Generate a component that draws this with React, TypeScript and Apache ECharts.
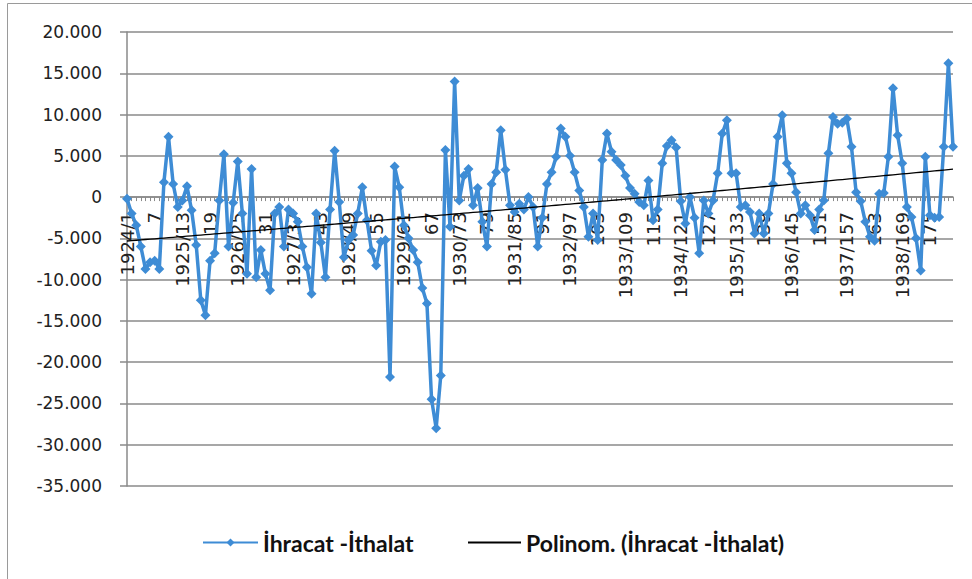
import React, { useEffect, useRef } from "react";
import * as echarts from "echarts";

const YEARS = [1924, 1925, 1926, 1927, 1928, 1929, 1930, 1931, 1932, 1933, 1934, 1935, 1936, 1937, 1938];

// Monthly values, 12 per year
const V1924 = [-200, -2000, -3400, -6000, -8700, -7900, -7700, -8700, 1800, 7300, 1600, -1200];
const V1925 = [-400, 1300, -1600, -5800, -12500, -14300, -7700, -6800, -400, 5200, -6000, -700];
const V1926 = [4300, -2000, -9300, 3400, -9700, -6400, -9300, -11300, -2000, -1200, -6000, -1500];
const V1927 = [-2000, -3000, -6000, -8500, -11700, -2000, -5500, -9700, -1500, 5600, -600, -7300];
const V1928 = [-5200, -4600, -2000, 1200, -2800, -6500, -8300, -5400, -5200, -21800, 3700, 1200];
const V1929 = [-3400, -5000, -6400, -7900, -11000, -12900, -24500, -28000, -21600, 5700, -3600, 14000];
const V1930 = [-400, 2600, 3400, -1000, 1100, -3000, -6000, 1600, 3000, 8100, 3300, -1000];
const V1931 = [-1800, -800, -1500, 0, -1200, -6000, -2500, 1600, 3000, 4900, 8300, 7300];
const V1932 = [5000, 3000, 800, -1200, -4800, -2000, -5200, 4500, 7700, 5500, 4500, 3900];
const V1933 = [2600, 1100, 400, -600, -1000, 2000, -2800, -1500, 4100, 6200, 6900, 6000];
const V1934 = [-500, -3200, 0, -2500, -6800, -400, -2000, -400, 2900, 7700, 9300, 2900];
const V1935 = [2900, -1200, -1000, -1800, -4400, -2000, -4400, -2000, 1600, 7300, 9900, 4100];
const V1936 = [2900, 600, -2000, -1000, -2200, -4000, -1500, -400, 5300, 9700, 8900, 9000];
const V1937 = [9500, 6100, 600, -500, -3000, -4800, -5300, 400, 500, 4900, 13200, 7500];
const V1938 = [4100, -1200, -2400, -5000, -8900, 4900, -2200, -2500, -2400, 6100, 16200, 6100];

const SERIES_NAME = "İhracat -İthalat";
const TREND_NAME = "Polinom. (İhracat -İthalat)";
const Y_MIN = -35000;
const Y_MAX = 20000;
const Y_STEP = 5000;

const VALUES = [
  ...V1924, ...V1925, ...V1926, ...V1927, ...V1928, ...V1929, ...V1930, ...V1931,
  ...V1932, ...V1933, ...V1934, ...V1935, ...V1936, ...V1937, ...V1938,
];

const CATEGORIES = VALUES.map((_, i) =>
  i % 12 === 0 ? `${YEARS[i / 12]}/${i + 1}` : `${i + 1}`
);

// Excel-style polynomial (order 2) trendline fitted to the series
function polyFit2(ys: number[]): number[] {
  const n = ys.length;
  const S = [0, 0, 0, 0, 0];
  const T = [0, 0, 0];
  for (let i = 0; i < n; i++) {
    const x = i + 1;
    let p = 1;
    for (let k = 0; k < 5; k++) {
      S[k] += p;
      if (k < 3) T[k] += p * ys[i];
      p *= x;
    }
  }
  const A = [
    [S[0], S[1], S[2], T[0]],
    [S[1], S[2], S[3], T[1]],
    [S[2], S[3], S[4], T[2]],
  ];
  for (let c = 0; c < 3; c++) {
    for (let r = c + 1; r < 3; r++) {
      const f = A[r][c] / A[c][c];
      for (let k = c; k < 4; k++) A[r][k] -= f * A[c][k];
    }
  }
  const coef = [0, 0, 0];
  for (let r = 2; r >= 0; r--) {
    let s = A[r][3];
    for (let k = r + 1; k < 3; k++) s -= A[r][k] * coef[k];
    coef[r] = s / A[r][r];
  }
  return ys.map((_, i) => {
    const x = i + 1;
    return coef[0] + coef[1] * x + coef[2] * x * x;
  });
}

function fmt(v: number): string {
  if (v === 0) return "0";
  const s = Math.abs(v).toString().replace(/\B(?=(\d{3})+(?!\d))/g, ".");
  return (v < 0 ? "-" : "") + s;
}

const BLUE = "#3e8cd5";
const GRID = "#8a8a8a";
const GRID_TOP = 32;
const GRID_BOTTOM = 93;
const H = 579;

export default function App() {
  const ref = useRef<HTMLDivElement>(null);
  useEffect(() => {
    document.body.style.margin = "0";
    if (!ref.current) return;
    const chart = echarts.init(ref.current, null, { renderer: "svg" });
    const trend = polyFit2(VALUES);
    const plotH = H - GRID_TOP - GRID_BOTTOM;
    const zeroFromBottom = ((0 - Y_MIN) / (Y_MAX - Y_MIN)) * plotH;
    chart.setOption({
      animation: false,
      backgroundColor: "#ffffff",
      grid: { left: 127, right: 19, top: GRID_TOP, bottom: GRID_BOTTOM, containLabel: false },
      xAxis: {
        type: "category",
        data: CATEGORIES,
        boundaryGap: false,
        offset: -zeroFromBottom,
        axisLine: { onZero: false, lineStyle: { color: GRID, width: 1.5 } },
        axisTick: { show: true, interval: 0, length: 4, lineStyle: { color: GRID } },
        axisLabel: {
          interval: 5,
          rotate: 90,
          fontFamily: "DejaVu Sans",
          fontSize: 18,
          color: "#222",
          margin: 15,
        },
        splitLine: { show: false },
        z: 1,
      },
      yAxis: {
        type: "value",
        min: Y_MIN,
        max: Y_MAX,
        interval: Y_STEP,
        axisLine: { show: true, lineStyle: { color: GRID, width: 1.5 } },
        axisTick: { show: true, length: 7, lineStyle: { color: GRID, width: 1.5 } },
        axisLabel: {
          formatter: fmt,
          fontFamily: "DejaVu Sans",
          fontSize: 17,
          color: "#222",
          margin: 25,
        },
        splitLine: { lineStyle: { color: GRID, width: 1.6 } },
      },
      legend: [
        {
          data: [SERIES_NAME],
          left: 197,
          top: 526,
          itemWidth: 55,
          itemHeight: 10,
          textStyle: { fontFamily: "Lato", fontSize: 23, fontWeight: "bold", color: "#111" },
        },
        {
          data: [TREND_NAME],
          left: 462,
          top: 526,
          itemWidth: 53,
          itemHeight: 10,
          itemStyle: { opacity: 0 },
          textStyle: { fontFamily: "Lato", fontSize: 23, fontWeight: "bold", color: "#111" },
        },
      ],
      series: [
        {
          name: SERIES_NAME,
          type: "line",
          data: VALUES,
          symbol: "diamond",
          symbolSize: 10,
          showAllSymbol: true,
          lineStyle: { width: 3.5, color: BLUE },
          itemStyle: { color: BLUE },
          z: 3,
        },
        {
          name: TREND_NAME,
          type: "line",
          data: trend,
          symbol: "none",
          showSymbol: false,
          lineStyle: { width: 1.3, color: "#000" },
          itemStyle: { color: "#000" },
          z: 4,
        },
      ],
      graphic: [
        {
          type: "rect",
          silent: true,
          z: -10,
          shape: { x: 7.5, y: 3.5, width: 975, height: 590 },
          style: { fill: "none", stroke: "#9a9a9a", lineWidth: 1 },
        },
      ],
    });
    return () => chart.dispose();
  }, []);
  return <div ref={ref} style={{ width: 972, height: 579 }} />;
}
